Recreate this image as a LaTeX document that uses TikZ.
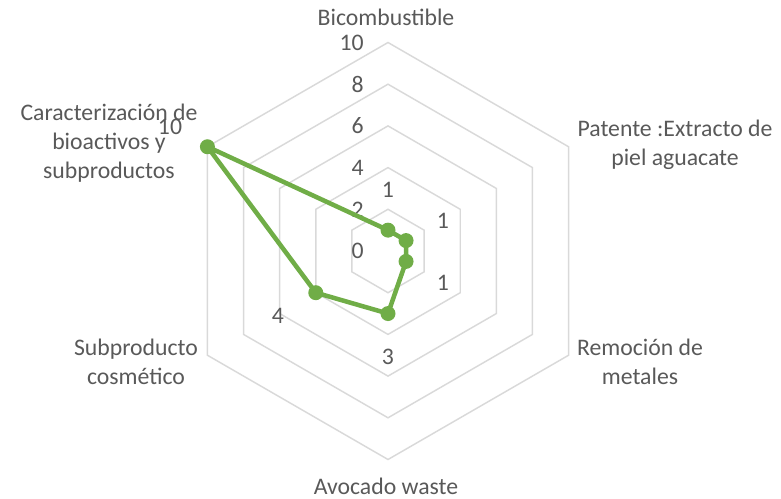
\documentclass[tikz,border=0pt]{standalone}
\usepackage{fontspec}
\setmainfont{Carlito}
\definecolor{gridc}{HTML}{D9D9D9}
\definecolor{txt}{HTML}{595959}
\definecolor{ser}{HTML}{70AD47}
\tikzset{
  gridline/.style={draw=gridc, line width=1.1pt, line join=miter},
  series/.style={draw=ser, line width=3.4pt, line join=round},
  marker/.style={fill=ser},
  lbl/.style={text=txt, font=\fontsize{17.8}{21.7}\selectfont, inner sep=0pt, align=center},
  axlbl/.style={lbl, anchor=east},
}
\begin{document}
\begin{tikzpicture}[x=0.75pt,y=0.75pt]
\useasboundingbox (0,0) rectangle (781,-499);
\begin{scope}[shift={(388,-251)}]
  \foreach \r in {41.7,83.4,125.1,166.8,208.5}
    \draw[gridline] (90:\r) -- (30:\r) -- (-30:\r) -- (-90:\r) -- (210:\r) -- (150:\r) -- cycle;
  \foreach \v/\n in {0/a0,2/a2,4/a4,6/a6,8/a8,10/a10}
    \node[axlbl] (\n) at (-24,\v*20.85) {\v};
  \coordinate (p1) at (90:20.85);
  \coordinate (p2) at (30:20.85);
  \coordinate (p3) at (-30:20.85);
  \coordinate (p4) at (-90:62.55);
  \coordinate (p5) at (210:83.4);
  \coordinate (p6) at (150:208.5);
  \draw[series] (p1) -- (p2) -- (p3) -- (p4) -- (p5) -- (p6) -- cycle;
  \foreach \p in {p1,p2,p3,p4,p5,p6}
    \fill[marker] (\p) circle (7.5);
\end{scope}
\node[lbl] (c1) at (386,-17) {Bicombustible};
\node[lbl] (c2) at (675,-145) {Patente :Extracto de\\piel aguacate};
\node[lbl] (c3) at (640,-362) {Remoción de\\metales};
\node[lbl] (c4) at (386,-486) {Avocado waste};
\node[lbl] (c5) at (136,-362) {Subproducto\\cosmético};
\node[lbl] (c6) at (109,-143) {Caracterización de\\bioactivos y\\subproductos};
\node[lbl] (v1) at (388,-190) {1};
\node[lbl] (v2) at (443,-221) {1};
\node[lbl] (v3) at (443,-283) {1};
\node[lbl] (v4) at (388,-357) {3};
\node[lbl] (v5) at (278,-316) {4};
\node[lbl] (v6) at (170,-127) {10};
\end{tikzpicture}
\end{document}
